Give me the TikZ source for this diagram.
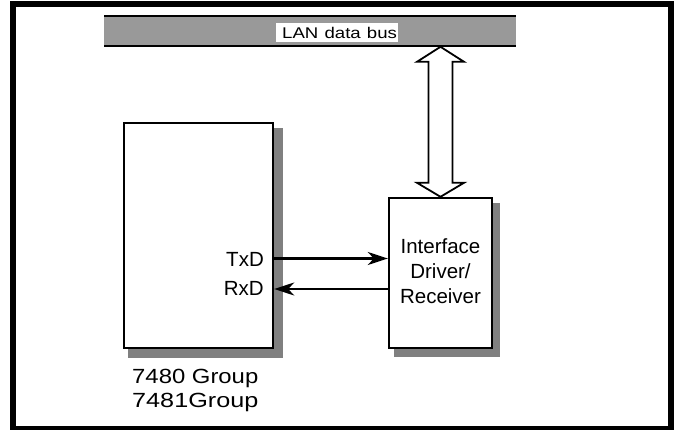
\documentclass[tikz,border=0pt]{standalone}
\usepackage{fontspec}
\setmainfont{Liberation Sans}
\usetikzlibrary{arrows.meta,backgrounds}
\definecolor{busgray}{HTML}{999999}
\definecolor{shadowgray}{HTML}{808080}
\begin{document}
\begin{tikzpicture}[x=1pt,y=-1pt,
  blk/.style={draw=black,line width=2.4pt,fill=white,inner sep=0pt},
  shadowfill/.style={fill=shadowgray,draw=none},
  lbl/.style={font=\fontsize{20.5}{25}\selectfont,inner sep=0pt},
  sig/.style={line width=2.2pt,-{Stealth[length=20pt,width=13pt,inset=6pt]}},
  busline/.style={line width=2.5pt},
  busarrow/.style={draw=black,line width=1.8pt,fill=white,line join=miter}]
\useasboundingbox (0,0) rectangle (674,430);
% outer frame
\draw[line width=6pt] (13,4) rectangle (670.5,428.5);
% LAN bus
\fill[busgray] (104,16) rectangle (516,46);
\draw[busline] (104,16) -- (516,16);
\draw[busline] (104,46) -- (516,46);
\node[fill=white,minimum width=122pt,minimum height=19pt,inner sep=0pt,
      text width=120pt,align=right,font=\fontsize{15.5}{18}\selectfont]
      (lan) at (337,32.5) {\scalebox{1.2}[1]{LAN data bus}};
% boxes
\node[blk,minimum width=149pt,minimum height=225pt] (mcu) at (198.5,235.5) {};
\node[blk,minimum width=103pt,minimum height=150pt] (drv) at (440.5,273) {};
\begin{scope}[on background layer]
  \fill[shadowfill] ([shift={(5,6)}]mcu.north west) rectangle ([shift={(9,9)}]mcu.south east);
  \fill[shadowfill] ([shift={(6,6)}]drv.north west) rectangle ([shift={(7,8)}]drv.south east);
\end{scope}
% signals
\draw[sig] ([yshift=-23pt]mcu.east) -- ([yshift=-23pt]mcu.east -| drv.west);
\draw[sig] ([yshift=-53.5pt]mcu.east -| drv.west) -- ([yshift=-53.5pt]mcu.east);
\node[lbl,anchor=base east] (txd) at (264,266) {TxD};
\node[lbl,anchor=base east] (rxd) at (264,295) {RxD};
\node[lbl,align=center] (drvtxt) at ([yshift=2pt]drv.center) {Interface\\Driver/\\Receiver};
\node[lbl,anchor=base west] (g1) at (132,383) {\scalebox{1.165}[1]{7480 Group}};
\node[lbl,anchor=base west] (g2) at (132,407) {\scalebox{1.23}[1]{7481Group}};
% bus double arrow
\draw[busarrow] (drv.north) -- ++(23.5,-14) -- ++(-11.5,0) -- ++(0,-121) -- ++(11.5,0)
  -- ++(-23.5,-15) -- ++(-23.5,15) -- ++(11.5,0) -- ++(0,121) -- ++(-11.5,0) -- cycle;
\end{tikzpicture}
\end{document}
